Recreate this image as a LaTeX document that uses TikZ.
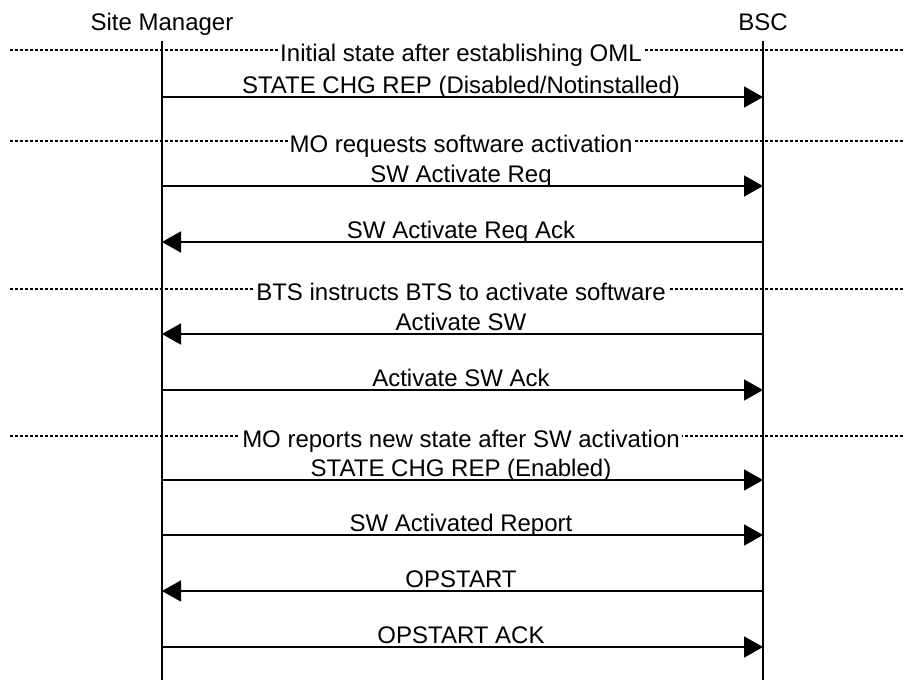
\documentclass[tikz,border=0pt]{standalone}
\usepackage{fontspec}
\setmainfont{Liberation Sans}
\usetikzlibrary{arrows.meta}
\begin{document}
\begin{tikzpicture}[x=1pt,y=-1pt,
  every node/.style={font=\fontsize{24}{28}\selectfont, inner sep=0pt},
  life/.style={line width=1.8pt},
  msg/.style={line width=1.8pt, -{Triangle[length=19pt,width=21pt]}},
  msglabel/.style={anchor=base, yshift=4pt},
  sep/.style={line width=1.1pt, dash pattern=on 3pt off 2pt},
  seplabel/.style={fill=white, inner xsep=2pt, inner ysep=1pt, anchor=base, yshift=-11.5pt},
  head/.style={anchor=base}]
\useasboundingbox (0,0) rectangle (904,680);
% headers
\node[head] (smh) at (162,30) {Site Manager};
\node[head] (bsch) at (763,30) {BSC};
% lifelines
\coordinate (smtop) at (162,41);
\coordinate (smbot) at (162,680);
\coordinate (bsctop) at (763,41);
\coordinate (bscbot) at (763,680);
\draw[life] (smtop) -- (smbot);
\draw[life] (bsctop) -- (bscbot);
% separators
\foreach \n/\y/\t in {1/50/{Initial state after establishing OML},
                      2/141/{MO requests software activation},
                      3/289/{BTS instructs BTS to activate software},
                      4/436/{MO reports new state after SW activation}}{
  \coordinate (sepl\n) at (10,\y);
  \coordinate (sepr\n) at (904,\y);
  \draw[sep] (sepl\n) -- (sepr\n);
  \node[seplabel] (sept\n) at (461,\y) {\t};
}
% messages
\foreach \n/\y/\d/\t in {1/97/r/{STATE CHG REP (Disabled/Notinstalled)},
                         2/186/r/{SW Activate Req},
                         3/242/l/{SW Activate Req Ack},
                         4/334/l/{Activate SW},
                         5/390/r/{Activate SW Ack},
                         6/480/r/{STATE CHG REP (Enabled)},
                         7/535/r/{SW Activated Report},
                         8/591/l/{OPSTART},
                         9/647/r/{OPSTART ACK}}{
  \coordinate (sm\n) at (162,\y);
  \coordinate (bsc\n) at (763,\y);
  \if r\d
    \draw[msg] (sm\n) -- (bsc\n);
  \else
    \draw[msg] (bsc\n) -- (sm\n);
  \fi
  \node[msglabel] (lab\n) at (461,\y) {\t};
}
\end{tikzpicture}
\end{document}
